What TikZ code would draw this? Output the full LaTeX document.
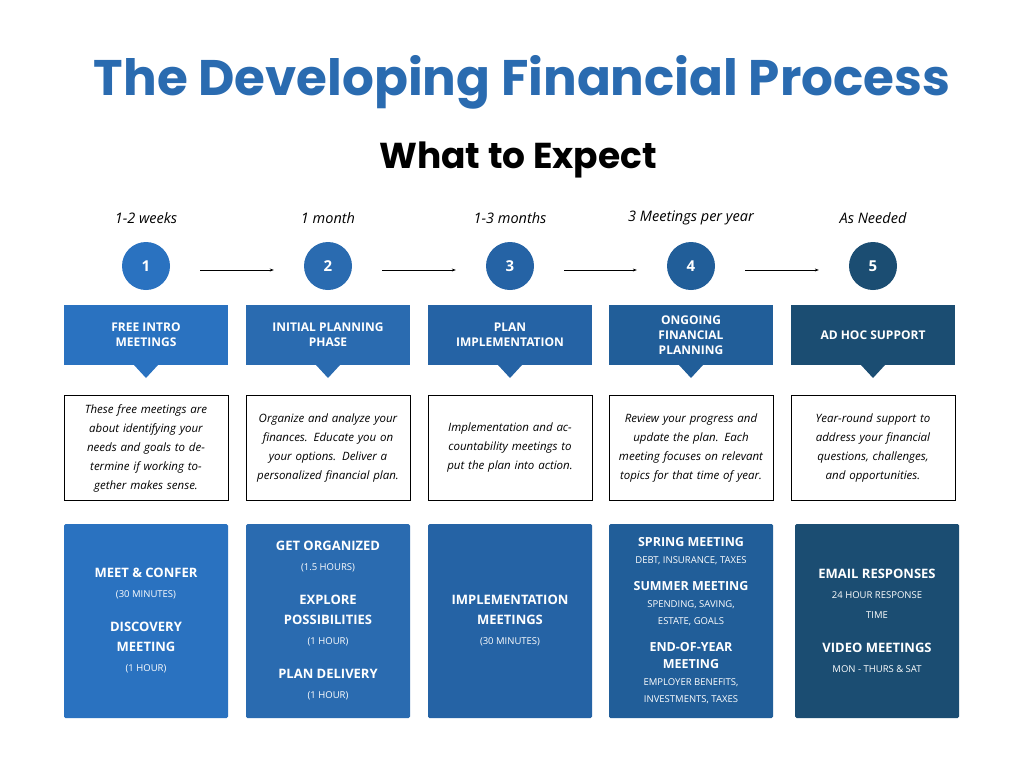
\documentclass[tikz,border=0pt]{standalone}
\usepackage{fontspec}
\setmainfont{Open Sans}
\newfontfamily\titlefont{Poppins}
\usetikzlibrary{positioning,shapes.geometric,arrows.meta}
\definecolor{blueA}{HTML}{2A72C0}
\definecolor{blueB}{HTML}{2A6BB0}
\definecolor{blueC}{HTML}{2563A5}
\definecolor{blueD}{HTML}{215E99}
\definecolor{blueE}{HTML}{1B4D72}
\tikzset{
	step/.style={circle, fill=#1, minimum size=48pt, inner sep=0pt, text=white, font=\fontsize{15}{15}\selectfont\bfseries},
	head/.style={fill=#1, minimum width=164pt, minimum height=60pt, align=center, text=white, font=\fontsize{12}{15}\selectfont\bfseries},
	desc/.style={draw, line width=0.8pt, minimum width=164pt, minimum height=105pt, text width=154pt, align=center, font=\fontsize{11.5}{19}\selectfont\itshape},
	detail/.style={fill=#1, minimum width=164pt, minimum height=194pt, rounded corners=1.5pt, align=center, text=white, font=\fontsize{13}{20}\selectfont\bfseries},
	when/.style={font=\fontsize{14.5}{15}\selectfont\itshape},
}
\newcommand{\sm}[1]{{\fontsize{9.5}{13}\selectfont\mdseries #1}}
\begin{document}
\begin{tikzpicture}[x=1pt,y=-1pt]
	\useasboundingbox (0,0) rectangle (1024,768);
	\node[text=blueB, font=\titlefont\fontsize{50}{50}\selectfont\bfseries] (title) at (522,82) {The Developing Financial Process};
	\node[font=\titlefont\fontsize{36}{36}\selectfont\bfseries] (subtitle) at (518,160) {What to Expect};
	\foreach \i/\x/\c/\t in {1/146/blueA/1-2 weeks, 2/328/blueB/1 month, 3/510/blueC/1-3 months, 4/691/blueD/3 Meetings per year, 5/873/blueE/As Needed}{
		\node[when] (when\i) at (\x,218) {\t};
		\node[step=\c] (step\i) at (\x,266) {\i};
		\fill[\c] (\x-12,365) -- (\x,378) -- (\x+12,365) -- cycle;
	}
	\foreach \a/\b in {1/2,2/3,3/4,4/5}{
		\draw[-{Stealth[length=4pt]}, line width=0.6pt] ([xshift=30pt,yshift=-4pt]step\a.east) -- ([xshift=-30pt,yshift=-4pt]step\b.west);
	}
	% headers
	\node[head=blueA] (head1) at (146,335) {FREE INTRO\\MEETINGS};
	\node[head=blueB] (head2) at (328,335) {INITIAL PLANNING\\PHASE};
	\node[head=blueC] (head3) at (510,335) {PLAN\\IMPLEMENTATION};
	\node[head=blueD] (head4) at (691,335) {ONGOING\\FINANCIAL\\PLANNING};
	\node[head=blueE] (head5) at (873,335) {AD HOC SUPPORT};
	% descriptions
	\node[desc] (desc1) at (146,448) {These free meetings are about identifying your needs and goals to determine if working together makes sense.};
	\node[desc] (desc2) at (328,448) {Organize and analyze your finances. Educate you on your options. Deliver a personalized financial plan.};
	\node[desc] (desc3) at (510,448) {Implementation and accountability meetings to put the plan into action.};
	\node[desc] (desc4) at (691,448) {Review your progress and update the plan. Each meeting focuses on relevant topics for that time of year.};
	\node[desc] (desc5) at (873,448) {Year-round support to address your financial questions, challenges, and opportunities.};
	% details
	\node[detail=blueA] (detail1) at (146,621) {MEET \& CONFER\\\sm{(30 MINUTES)}\\[14pt]DISCOVERY\\MEETING\\\sm{(1 HOUR)}};
	\node[detail=blueB] (detail2) at (328,621) {GET ORGANIZED\\\sm{(1.5 HOURS)}\\[14pt]EXPLORE\\POSSIBILITIES\\\sm{(1 HOUR)}\\[14pt]PLAN DELIVERY\\\sm{(1 HOUR)}};
	\node[detail=blueC] (detail3) at (510,621) {IMPLEMENTATION\\MEETINGS\\\sm{(30 MINUTES)}};
	\node[detail=blueD, font=\fontsize{12.5}{17}\selectfont\bfseries] (detail4) at (691,621) {SPRING MEETING\\\sm{DEBT, INSURANCE, TAXES}\\[10pt]SUMMER MEETING\\\sm{SPENDING, SAVING,}\\\sm{ESTATE, GOALS}\\[10pt]END-OF-YEAR\\MEETING\\\sm{EMPLOYER BENEFITS,}\\\sm{INVESTMENTS, TAXES}};
	\node[detail=blueE] (detail5) at (877,621) {EMAIL RESPONSES\\\sm{24 HOUR RESPONSE}\\\sm{TIME}\\[14pt]VIDEO MEETINGS\\\sm{MON - THURS \& SAT}};
\end{tikzpicture}
\end{document}
